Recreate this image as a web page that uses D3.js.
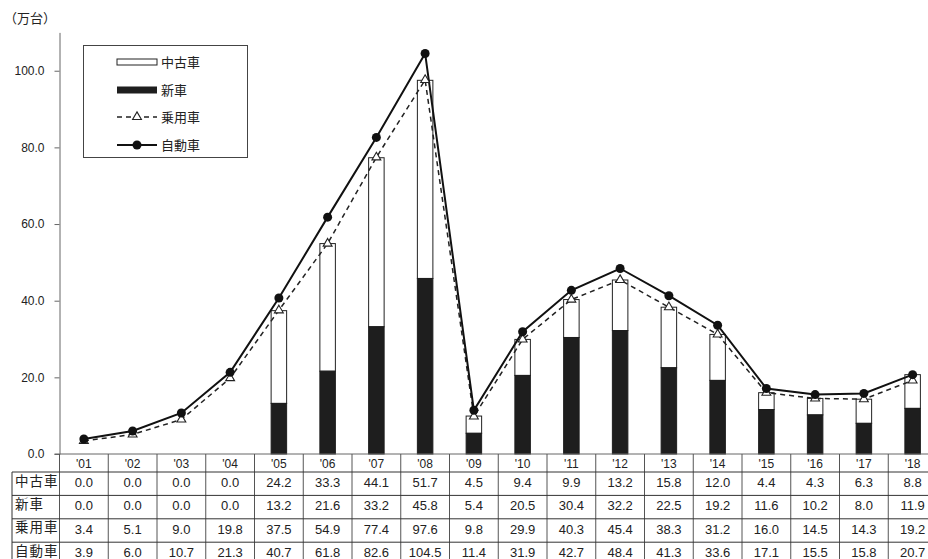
<!DOCTYPE html>
<html>
<head>
<meta charset="utf-8">
<script src="https://cdn.jsdelivr.net/npm/d3@7"></script>
<style>
  body { margin: 0; background: #fff; }
  svg { display: block; font-family: "Noto Sans CJK JP", "Liberation Sans", sans-serif; }
</style>
</head>
<body>
<svg id="chart" width="928" height="559"></svg>
<script>
// Fiscal years ('01 – '18)
const years = ["'01","'02","'03","'04","'05","'06","'07","'08","'09","'10","'11","'12","'13","'14","'15","'16","'17","'18"];
// 中古車 (used cars, 万台)
const usedCars = [0.0,0.0,0.0,0.0,24.2,33.3,44.1,51.7,4.5,9.4,9.9,13.2,15.8,12.0,4.4,4.3,6.3,8.8];
// 新車 (new cars, 万台)
const newCars = [0.0,0.0,0.0,0.0,13.2,21.6,33.2,45.8,5.4,20.5,30.4,32.2,22.5,19.2,11.6,10.2,8.0,11.9];
// 乗用車 (passenger cars, 万台)
const passengerCars = [3.4,5.1,9.0,19.8,37.5,54.9,77.4,97.6,9.8,29.9,40.3,45.4,38.3,31.2,16.0,14.5,14.3,19.2];
// 自動車 (all motor vehicles, 万台)
const motorVehicles = [3.9,6.0,10.7,21.3,40.7,61.8,82.6,104.5,11.4,31.9,42.7,48.4,41.3,33.6,17.1,15.5,15.8,20.7];
// Axis ticks and row labels
const yTicks = [0, 20, 40, 60, 80, 100];
const rowLabels = ["中古車", "新車", "乗用車", "自動車"];
const unitLabel = "（万台）";

const svg = d3.select("#chart");
const fmt = d3.format(".1f");

const plotLeft = 59.5, colW = 48.75;
const x = d3.scaleBand().domain(years).range([plotLeft, plotLeft + colW * years.length]).padding(0);
const y = d3.scaleLinear().domain([0, 110]).range([454, 32.4]);
const barW = 15.5;
const cx = d => x(d) + x.bandwidth() / 2;

// Unit label
svg.append("text").attr("x", 4).attr("y", 23).attr("font-size", 13).attr("fill", "#222").text(unitLabel);

// Y axis
const yAxis = svg.append("g").attr("transform", `translate(${plotLeft},0)`)
  .call(d3.axisLeft(y).tickValues(yTicks).tickFormat(fmt).tickSize(5).tickSizeOuter(0));
yAxis.select(".domain").attr("stroke", "#666");
yAxis.selectAll(".tick line").attr("stroke", "#666");
yAxis.selectAll(".tick text").attr("font-size", 12).attr("fill", "#222").attr("x", -15)
  .attr("font-family", "'Liberation Sans', Arial, sans-serif");

// Stacked bars: 新車 on the bottom, 中古車 on top
const bars = svg.append("g");
years.forEach((yr, i) => {
  if (newCars[i] + usedCars[i] <= 0) return;
  const x0 = cx(yr) - barW / 2;
  bars.append("rect").attr("x", x0).attr("width", barW)
    .attr("y", y(newCars[i] + usedCars[i])).attr("height", y(newCars[i]) - y(newCars[i] + usedCars[i]))
    .attr("fill", "#fff").attr("stroke", "#222").attr("stroke-width", 1);
  bars.append("rect").attr("x", x0).attr("width", barW)
    .attr("y", y(newCars[i])).attr("height", y(0) - y(newCars[i]))
    .attr("fill", "#1e1e1e").attr("stroke", "#1e1e1e").attr("stroke-width", 1);
});

// Lines
const line = d3.line().x((d, i) => cx(years[i])).y(d => y(d));
svg.append("path").datum(passengerCars).attr("d", line).attr("fill", "none")
  .attr("stroke", "#222").attr("stroke-width", 1.5).attr("stroke-dasharray", "5,4");
svg.append("path").datum(motorVehicles).attr("d", line).attr("fill", "none")
  .attr("stroke", "#111").attr("stroke-width", 2);

const tri = d3.symbol().type(d3.symbolTriangle).size(34);
svg.append("g").selectAll("path").data(passengerCars).join("path")
  .attr("d", tri).attr("transform", (d, i) => `translate(${cx(years[i])},${y(d)})`)
  .attr("fill", "#fff").attr("stroke", "#222").attr("stroke-width", 1.1);
svg.append("g").selectAll("circle").data(motorVehicles).join("circle")
  .attr("cx", (d, i) => cx(years[i])).attr("cy", d => y(d)).attr("r", 4.5).attr("fill", "#111");

// X axis baseline
svg.append("line").attr("x1", plotLeft - 5).attr("x2", 928).attr("y1", y(0)).attr("y2", y(0))
  .attr("stroke", "#666").attr("stroke-width", 1);

// Data table
const tableTop = y(0), headH = 18, rowH = 23.4, labelLeft = 12;
const table = svg.append("g");
const tableRight = x.range()[1];
const bodyTop = tableTop + headH;
// column separators
years.forEach((yr, i) => {
  table.append("line").attr("x1", x(yr) + colW).attr("x2", x(yr) + colW)
    .attr("y1", tableTop).attr("y2", 560).attr("stroke", "#555");
});
table.append("line").attr("x1", plotLeft).attr("x2", plotLeft).attr("y1", tableTop).attr("y2", 560).attr("stroke", "#555");
table.append("line").attr("x1", labelLeft).attr("x2", labelLeft).attr("y1", bodyTop).attr("y2", 560).attr("stroke", "#333");
// row separators
for (let r = 0; r <= rowLabels.length; r++) {
  const yy = bodyTop + r * rowH;
  table.append("line").attr("x1", labelLeft).attr("x2", tableRight).attr("y1", yy).attr("y2", yy).attr("stroke", "#333");
}
// header
years.forEach(yr => {
  table.append("text").attr("x", cx(yr)).attr("y", tableTop + 14).attr("text-anchor", "middle")
    .attr("font-size", 12).attr("fill", "#222").attr("font-family", "'Liberation Sans', Arial, sans-serif").text(yr);
});
const rows = [usedCars, newCars, passengerCars, motorVehicles];
rows.forEach((vals, r) => {
  const yy = bodyTop + r * rowH + 15;
  table.append("text").attr("x", labelLeft + 3).attr("y", yy - 1.5).attr("font-size", 13.5)
    .attr("letter-spacing", 1).attr("fill", "#222").text(rowLabels[r]);
  vals.forEach((v, i) => {
    table.append("text").attr("x", cx(years[i])).attr("y", yy).attr("text-anchor", "middle")
      .attr("font-size", 13).attr("fill", "#222").attr("font-family", "'Liberation Sans', Arial, sans-serif").text(fmt(v));
  });
});

// Legend
const lg = svg.append("g");
lg.append("rect").attr("x", 83.5).attr("y", 45.5).attr("width", 164).attr("height", 112)
  .attr("fill", "#fff").attr("stroke", "#444");
const lx0 = 117, lx1 = 157, ltx = 161;
const ly = [62, 90, 117, 145];
lg.append("rect").attr("x", lx0).attr("y", ly[0] - 3).attr("width", lx1 - lx0).attr("height", 6).attr("fill", "#fff").attr("stroke", "#222");
lg.append("rect").attr("x", lx0).attr("y", ly[1] - 3.5).attr("width", lx1 - lx0).attr("height", 7).attr("fill", "#1e1e1e");
lg.append("line").attr("x1", lx0).attr("x2", lx1).attr("y1", ly[2]).attr("y2", ly[2]).attr("stroke", "#222").attr("stroke-width", 1.5).attr("stroke-dasharray", "5,4");
lg.append("path").attr("d", tri).attr("transform", `translate(${(lx0 + lx1) / 2},${ly[2]})`).attr("fill", "#fff").attr("stroke", "#222").attr("stroke-width", 1.1);
lg.append("line").attr("x1", lx0).attr("x2", lx1).attr("y1", ly[3]).attr("y2", ly[3]).attr("stroke", "#111").attr("stroke-width", 2);
lg.append("circle").attr("cx", (lx0 + lx1) / 2).attr("cy", ly[3]).attr("r", 4.5).attr("fill", "#111");
rowLabels.forEach((t, i) => {
  lg.append("text").attr("x", ltx).attr("y", ly[i] + 5).attr("font-size", 13).attr("fill", "#222").text(t);
});
</script>
</body>
</html>
